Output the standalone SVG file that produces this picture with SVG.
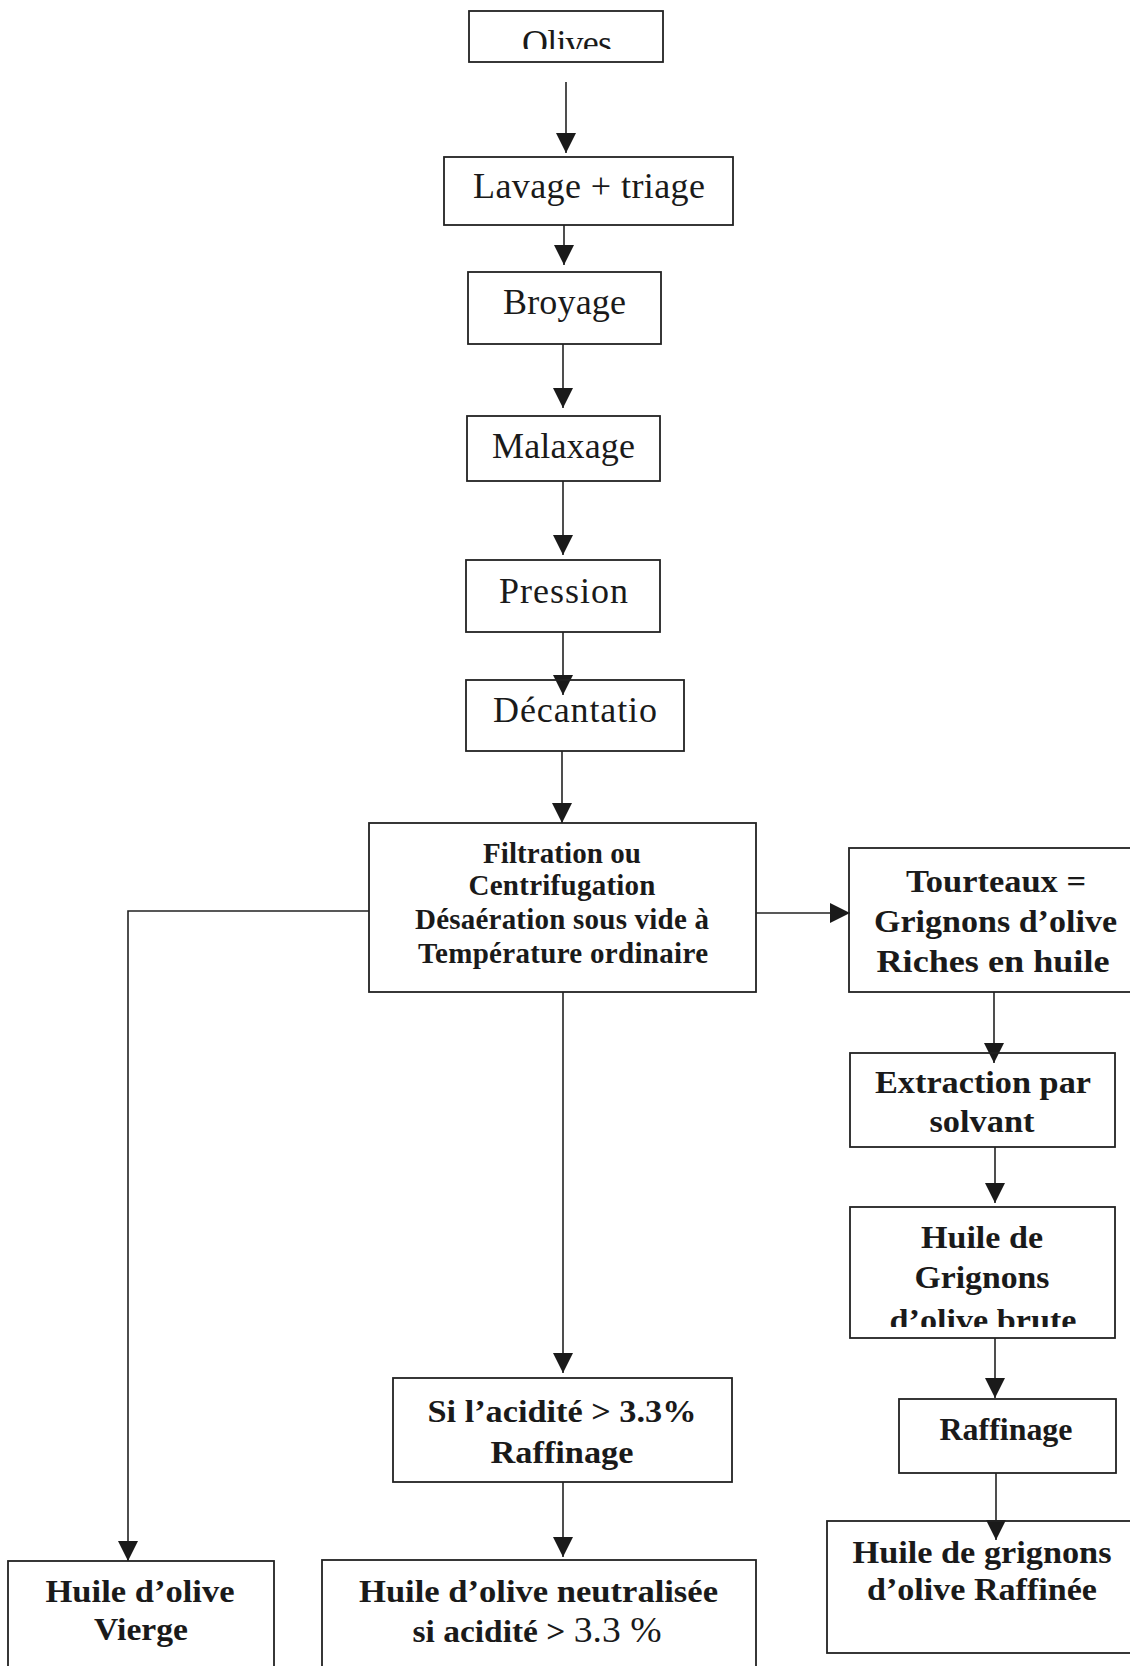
<svg xmlns="http://www.w3.org/2000/svg" width="1130" height="1666" viewBox="0 0 1130 1666">
<style>
.box{fill:none;stroke:#222;stroke-width:1.8}
.reg{font-family:"Liberation Serif","Times New Roman",serif;font-size:36px;fill:#1a1a1a;text-anchor:middle}
.bld{font-family:"Liberation Serif","Times New Roman",serif;font-size:32px;font-weight:bold;fill:#1a1a1a;text-anchor:middle}
.sm{font-size:29px}
.conn{fill:none;stroke:#222;stroke-width:1.6}
</style>
<defs>
<marker id="ah" markerUnits="userSpaceOnUse" markerWidth="20" markerHeight="20" refX="20" refY="10" orient="auto">
<path d="M0,0 L20,10 L0,20 z" fill="#1a1a1a"/>
</marker>
<clipPath id="clipOlives"><rect x="469" y="11" width="194" height="38"/></clipPath>
<clipPath id="clipBrute"><rect x="850" y="1207" width="265" height="120"/></clipPath>
</defs>
<rect width="1130" height="1666" fill="#fff"/>

<g id="connectors">
<path class="conn" d="M566,82 V153" marker-end="url(#ah)"/>
<path class="conn" d="M564,225 V265" marker-end="url(#ah)"/>
<path class="conn" d="M563,344 V408" marker-end="url(#ah)"/>
<path class="conn" d="M563,481 V555" marker-end="url(#ah)"/>
<path class="conn" d="M563,632 V695" marker-end="url(#ah)"/>
<path class="conn" d="M562,751 V823" marker-end="url(#ah)"/>
<path class="conn" d="M563,992 V1373" marker-end="url(#ah)"/>
<path class="conn" d="M563,1482 V1557" marker-end="url(#ah)"/>
<path class="conn" d="M369,911 H128 V1561" marker-end="url(#ah)"/>
<path class="conn" d="M756,913 H850" marker-end="url(#ah)"/>
<path class="conn" d="M994,992 V1063" marker-end="url(#ah)"/>
<path class="conn" d="M995,1147 V1203" marker-end="url(#ah)"/>
<path class="conn" d="M995,1338 V1398" marker-end="url(#ah)"/>
<path class="conn" d="M996,1473 V1540" marker-end="url(#ah)"/>
</g>

<g id="olives">
<rect class="box" x="469" y="11" width="194" height="51"/>
<text class="reg" x="567" y="55" clip-path="url(#clipOlives)" textLength="90">Olives</text>
</g>
<g id="lavage">
<rect class="box" x="444" y="157" width="289" height="68"/>
<text class="reg" x="589" y="198" textLength="232">Lavage + triage</text>
</g>
<g id="broyage">
<rect class="box" x="468" y="272" width="193" height="72"/>
<text class="reg" x="564.5" y="314" textLength="123">Broyage</text>
</g>
<g id="malaxage">
<rect class="box" x="467" y="416" width="193" height="65"/>
<text class="reg" x="563.5" y="458" textLength="143">Malaxage</text>
</g>
<g id="pression">
<rect class="box" x="466" y="560" width="194" height="72"/>
<text class="reg" x="563.5" y="603" textLength="129">Pression</text>
</g>
<g id="decantation">
<rect class="box" x="466" y="680" width="218" height="71"/>
<text class="reg" x="575" y="722" textLength="164">Décantatio</text>
</g>
<g id="filtration">
<rect class="box" x="369" y="823" width="387" height="169"/>
<text class="bld sm" x="562" y="863" textLength="158">Filtration ou</text>
<text class="bld sm" x="562" y="895" textLength="187">Centrifugation</text>
<text class="bld sm" x="562" y="929" textLength="294">Désaération sous vide à</text>
<text class="bld sm" x="563" y="963" textLength="290">Température ordinaire</text>
</g>
<g id="tourteaux">
<rect class="box" x="849" y="848" width="290" height="144"/>
<text class="bld" x="996" y="892" textLength="180" lengthAdjust="spacingAndGlyphs">Tourteaux =</text>
<text class="bld" x="995.5" y="932" textLength="243" lengthAdjust="spacingAndGlyphs">Grignons d’olive</text>
<text class="bld" x="993" y="972" textLength="233" lengthAdjust="spacingAndGlyphs">Riches en huile</text>
</g>
<g id="extraction">
<rect class="box" x="850" y="1053" width="265" height="94"/>
<text class="bld" x="983" y="1093" textLength="216" lengthAdjust="spacingAndGlyphs">Extraction par</text>
<text class="bld" x="982" y="1132" textLength="105" lengthAdjust="spacingAndGlyphs">solvant</text>
</g>
<g id="huile-brute">
<rect class="box" x="850" y="1207" width="265" height="131"/>
<text class="bld" x="982" y="1248" textLength="122" lengthAdjust="spacingAndGlyphs">Huile de</text>
<text class="bld" x="982" y="1288" textLength="135" lengthAdjust="spacingAndGlyphs">Grignons</text>
<text class="bld" x="983" y="1331" textLength="187" lengthAdjust="spacingAndGlyphs" clip-path="url(#clipBrute)">d’olive brute</text>
</g>
<g id="raffinage-grignons">
<rect class="box" x="899" y="1399" width="217" height="74"/>
<text class="bld" x="1006" y="1440" textLength="133" lengthAdjust="spacingAndGlyphs">Raffinage</text>
</g>
<g id="huile-raffinee">
<rect class="box" x="827" y="1521" width="312" height="132"/>
<text class="bld" x="982" y="1563" textLength="259" lengthAdjust="spacingAndGlyphs">Huile de grignons</text>
<text class="bld" x="982" y="1600" textLength="230" lengthAdjust="spacingAndGlyphs">d’olive Raffinée</text>
</g>
<g id="si-acidite">
<rect class="box" x="393" y="1378" width="339" height="104"/>
<text class="bld" x="562" y="1422" textLength="269" lengthAdjust="spacingAndGlyphs">Si l’acidité &gt; 3.3%</text>
<text class="bld" x="562" y="1463" textLength="143" lengthAdjust="spacingAndGlyphs">Raffinage</text>
</g>
<g id="neutralisee">
<rect class="box" x="322" y="1560" width="434" height="120"/>
<text class="bld" x="538.5" y="1602" textLength="359" lengthAdjust="spacingAndGlyphs">Huile d’olive neutralisée</text>
<text class="bld" x="537" y="1642" textLength="249" lengthAdjust="spacingAndGlyphs">si acidité &gt; <tspan font-weight="normal" font-size="36">3.3 %</tspan></text>
</g>
<g id="vierge">
<rect class="box" x="8" y="1561" width="266" height="120"/>
<text class="bld" x="140" y="1602" textLength="189" lengthAdjust="spacingAndGlyphs">Huile d’olive</text>
<text class="bld" x="141" y="1640" textLength="94" lengthAdjust="spacingAndGlyphs">Vierge</text>
</g>
</svg>
